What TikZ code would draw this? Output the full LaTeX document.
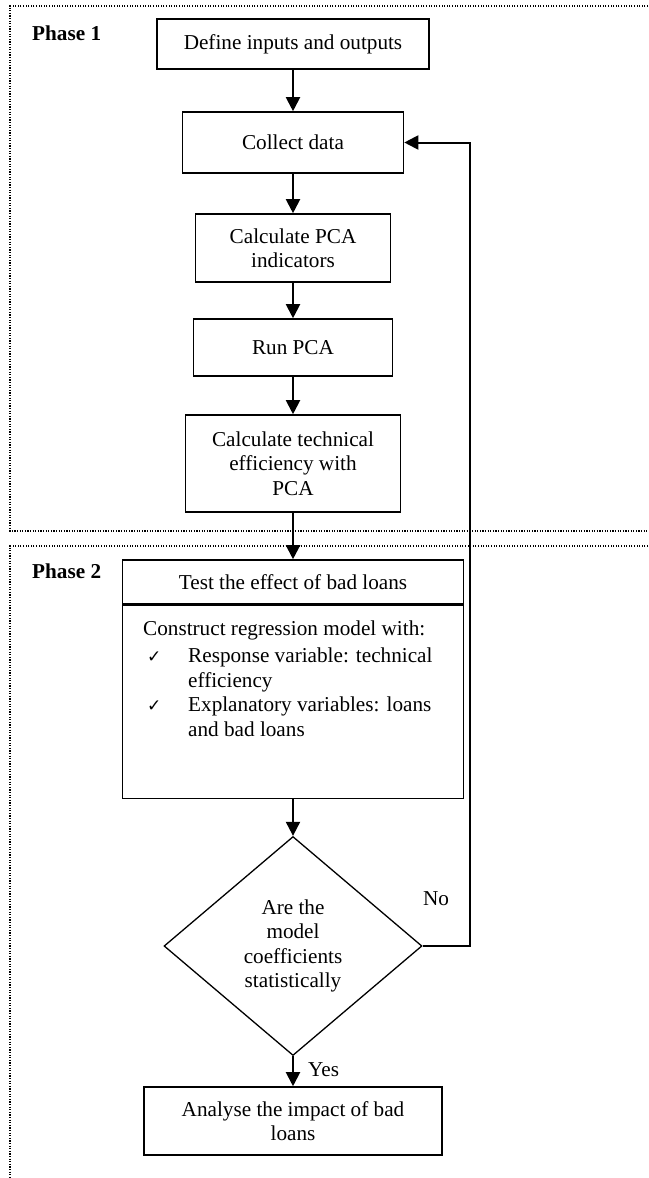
\documentclass[tikz,border=0pt]{standalone}
\usepackage{fontspec}
\setmainfont{Liberation Serif}
\newfontfamily\symfont{DejaVu Sans}
\usetikzlibrary{shapes.geometric,arrows.meta}
\begin{document}
\begin{tikzpicture}[x=1pt,y=-1pt,
  every node/.style={font=\fontsize{21.2}{24.5}\selectfont},
  stepbox/.style={draw,line width=1.6pt,inner sep=0pt,align=center},
  decision/.style={draw,diamond,line width=1.3pt,inner sep=0pt,align=center},
  arr/.style={line width=2pt,-{Triangle[length=14pt,width=14pt]}},
  phaseline/.style={line width=1.2pt,dash pattern=on 1.1pt off 1.5pt},
  phaselabel/.style={anchor=west,inner sep=0pt,font=\fontsize{21.2}{24.5}\selectfont\bfseries},
  ]
\useasboundingbox (0,0) rectangle (648,1178);
% phase frames
\draw[phaseline] (648,6) -- (10,6) -- (10,531) -- (648,531);
\draw[phaseline] (648,546) -- (10,546) -- (10,1178);
\node[phaselabel] (p1) at (32,33) {Phase 1};
\node[phaselabel] (p2) at (32,571) {Phase 2};
% boxes
\node[stepbox,minimum width=272pt,minimum height=50pt] (b1) at (293,44) {Define inputs and outputs};
\node[stepbox,minimum width=221pt,minimum height=61pt] (b2) at (293,142.5) {Collect data};
\node[stepbox,minimum width=195pt,minimum height=68pt] (b3) at (293,248) {Calculate PCA\\indicators};
\node[stepbox,minimum width=199pt,minimum height=57pt] (b4) at (293,347.5) {Run PCA};
\node[stepbox,minimum width=215pt,minimum height=97pt] (b5) at (293,463.5) {Calculate technical\\efficiency with\\PCA};
\node[stepbox,minimum width=341pt,minimum height=44pt] (b6h) at (293,582) {Test the effect of bad loans};
\node[stepbox,minimum width=341pt,minimum height=193pt,anchor=north] (b6b) at (b6h.south) {};
\node[anchor=base west,inner sep=0pt,text width=315pt,align=flush left] (b6t) at (143,635) {Construct regression model with:\\[3pt]
\makebox[45pt][l]{\hspace{4pt}{\symfont\fontsize{17}{17}\selectfont ✓}}Response variable: technical\\
\hspace*{45pt}efficiency\\
\makebox[45pt][l]{\hspace{4pt}{\symfont\fontsize{17}{17}\selectfont ✓}}Explanatory variables: loans\\
\hspace*{45pt}and bad loans};
\node[decision,minimum width=258pt,minimum height=219pt] (dia) at (293,946) {Are the\\model\\coefficients\\statistically};
\node[stepbox,minimum width=298pt,minimum height=68pt] (b7) at (293,1121) {Analyse the impact of bad\\loans};
% connectors
\draw[arr] (b1.south) -- (b2.north);
\draw[arr] (b2.south) -- (b3.north);
\draw[arr] (b3.south) -- (b4.north);
\draw[arr] (b4.south) -- (b5.north);
\draw[arr] (b5.south) -- (b6h.north);
\draw[arr] (b6b.south) -- (dia.north);
\draw[arr] (dia.south) -- (b7.north);
\coordinate (loopx) at (470,0);
\draw[arr] (dia.east) -- (dia.east -| loopx) -- (b2.east -| loopx) -- (b2.east);
\node (no) at (436,899) {No};
\node[anchor=west,inner sep=0pt] (yes) at (308,1070) {Yes};
\end{tikzpicture}
\end{document}
